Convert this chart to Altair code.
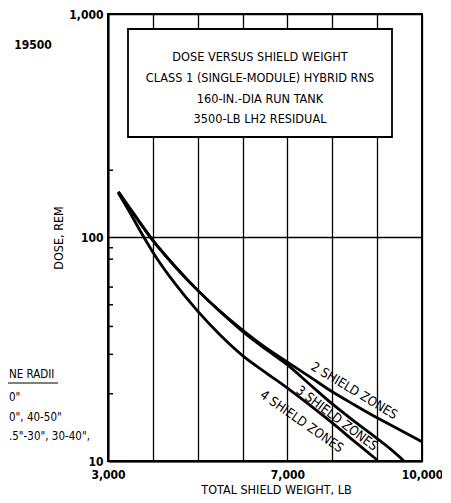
import altair as alt
import pandas as pd

FONT = "DejaVu Sans Condensed"

# ---- data ----
weight_2 = [3230, 3500, 4000, 4500, 5000, 5500, 6000, 6500, 7000, 7500, 8000, 8500, 9000, 9500, 10000]
dose_2 = [160, 134, 97, 74, 58, 46.7, 38.5, 32.3, 27.7, 23.8, 20.4, 17.8, 15.6, 13.8, 12.2]

weight_3 = [3230, 3500, 4000, 4500, 5000, 5500, 6000, 6500, 7000, 7500, 8000, 8500, 9000, 9300, 9600]
dose_3 = [160, 134, 97, 74, 58, 46.7, 38, 31.8, 26.9, 22.0, 18.0, 15.0, 12.6, 11.3, 10]

weight_4 = [3230, 3500, 3790, 4000, 4500, 5000, 5500, 6000, 6500, 7000, 7500, 8000, 8500, 9000]
dose_4 = [158, 128, 101, 86, 62, 46.8, 36.6, 29.6, 25.0, 21.2, 17.8, 14.8, 12.2, 10.1]

series_names = ["2 SHIELD ZONES", "3 SHIELD ZONES", "4 SHIELD ZONES"]
label_weight = [8487, 8100, 7318]
label_dose = [20.6, 15.5, 15.0]
label_angle = [31, 37, 35]

x_ticks = [3000, 4000, 5000, 6000, 7000, 8000, 9000, 10000]
x_labelled = [3000, 7000, 10000]
y_ticks = [10, 100, 1000]
y_minor = [20, 30, 40, 50, 60, 80, 90, 200]

title_lines = [
    "DOSE VERSUS SHIELD WEIGHT",
    "CLASS 1 (SINGLE-MODULE) HYBRID RNS",
    "160-IN.-DIA RUN TANK",
    "3500-LB LH2 RESIDUAL",
]
fragment_lines = ["NE RADII", '0"', '0", 40-50"', '.5"-30", 30-40",']

# ---- tables ----
rows = []
for name, xs, ys in zip(series_names, [weight_2, weight_3, weight_4], [dose_2, dose_3, dose_4]):
    for i, (a, b) in enumerate(zip(xs, ys)):
        rows.append({"series": name, "weight": a, "dose": b, "order": i})
curves = pd.DataFrame(rows)
labels = pd.DataFrame({"series": series_names, "weight": label_weight, "dose": label_dose,
                       "ang": label_angle})
minor = pd.DataFrame({"dose": y_minor})

W, H = 314, 447
xscale = alt.Scale(type="linear", domain=[3000, 10000], nice=False, zero=False)
yscale = alt.Scale(type="log", domain=[10, 1000], nice=False)

lbl_expr = "indexof([3000,7000,10000], datum.value) >= 0 ? format(datum.value, ',') : ''"

base = alt.Chart(curves)

lines = base.mark_line(color="black", strokeWidth=2.8, interpolate="monotone").encode(
    x=alt.X("weight:Q", scale=xscale,
            axis=alt.Axis(values=x_ticks, labelExpr=lbl_expr, title="TOTAL SHIELD WEIGHT, LB",
                          grid=True, ticks=False, labelPadding=8, titlePadding=3,
                          labelFlush=False, titleX=168)),
    y=alt.Y("dose:Q", scale=yscale,
            axis=alt.Axis(values=y_ticks, format=",", title="DOSE, REM", grid=True,
                          ticks=False, labelPadding=5, titlePadding=3)),
    detail="series:N",
    order="order:Q",
)

curve_text = alt.Chart(labels).mark_text(font=FONT, fontSize=13, color="black").encode(
    x=alt.X("weight:Q", scale=xscale), y=alt.Y("dose:Q", scale=yscale), text="series:N",
    angle=alt.Angle("ang:Q", scale=None))

ticks_minor = alt.Chart(minor).mark_rule(color="black", strokeWidth=1.5).encode(
    y=alt.Y("dose:Q", scale=yscale), x=alt.value(0), x2=alt.value(5))

one = pd.DataFrame({"a": [0]})
box = alt.Chart(one).mark_rect(fill="white", stroke="black", strokeWidth=1.8).encode(
    x=alt.value(20), x2=alt.value(284), y=alt.value(15), y2=alt.value(123))

title_df = pd.DataFrame({"t": title_lines, "yy": [43, 64, 85, 105]})
title_txt = alt.Chart(title_df).mark_text(font=FONT, fontSize=12.6, color="black",
                                          baseline="middle").encode(
    x=alt.value(152), y=alt.Y("yy:Q", scale=None), text="t:N")

code_txt = alt.Chart(one).mark_text(font=FONT, fontSize=12, fontWeight="bold", color="black",
                                    text="19500").encode(x=alt.value(-75), y=alt.value(31))

frag_df = pd.DataFrame({"t": fragment_lines, "yy": [361, 384, 404, 423]})
frag_txt = alt.Chart(frag_df).mark_text(font=FONT, fontSize=11.5, color="black", align="left",
                                        baseline="middle").encode(
    x=alt.value(-99), y=alt.Y("yy:Q", scale=None), text="t:N")
underline = alt.Chart(one).mark_rule(color="black", strokeWidth=1.2).encode(
    x=alt.value(-100), x2=alt.value(-50), y=alt.value(369))

chart = alt.layer(box, title_txt, lines, curve_text, ticks_minor, code_txt, frag_txt, underline).properties(
    width=W, height=H,
    background="white",
    autosize=alt.AutoSizeParams(type="none"),
    padding={"left": 100, "top": 6, "right": 20, "bottom": 40},
).configure_view(stroke="black", strokeWidth=2).configure_axis(
    domainColor="black", domainWidth=2, gridColor="black", gridWidth=1.3, gridOpacity=1,
    labelFont=FONT, labelFontSize=12, labelColor="black", labelFontWeight="bold",
    titleFont=FONT, titleFontSize=12.5, titleColor="black", titleFontWeight="normal",
)

chart.save("out.html", embed_options={"renderer": "svg", "actions": False})
